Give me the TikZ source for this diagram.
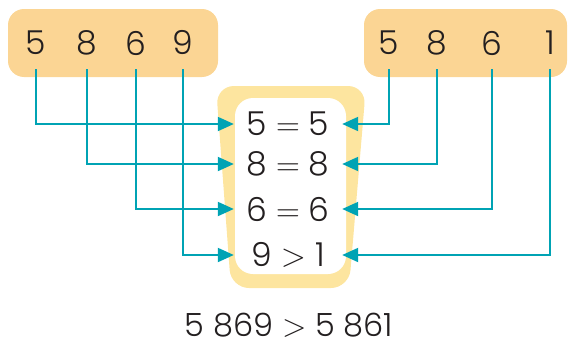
\RequirePackage{fix-cm}
\documentclass[tikz,border=0pt]{standalone}
\usepackage{fontspec}
\setmainfont{Poppins Light}
\usetikzlibrary{arrows.meta}
\definecolor{boxorange}{HTML}{FBD594}
\definecolor{padyellow}{HTML}{FDE59F}
\definecolor{linkteal}{HTML}{00A3B4}
\definecolor{inkdark}{HTML}{231F20}
\tikzset{
  digit/.style={inner sep=0pt, minimum height=52pt, text=inkdark, font=\fontsize{33}{33}\selectfont},
  row/.style={inner sep=0pt, minimum width=108pt, text=inkdark, font=\fontsize{33}{33}\selectfont},
  link/.style={draw=linkteal, line width=2pt, -{Triangle[length=16pt,width=14pt]}},
}
\begin{document}
\begin{tikzpicture}[x=1pt,y=-1pt]
\useasboundingbox (0,0) rectangle (568,343);
% number cards
\fill[boxorange, rounded corners=16pt] (8,9) rectangle (218,77);
\fill[boxorange, rounded corners=16pt] (364,9) rectangle (567,77);
% comparison panel
\fill[padyellow, rounded corners=18pt] (216,86) -- (366,86) -- (349,288) -- (231,288) -- cycle;
\fill[white, rounded corners=18pt] (235,98) rectangle (346,274);
% digits of 5869
\node[digit] (L1) at (36,43) {5};
\node[digit] (L2) at (87,43) {8};
\node[digit] (L3) at (136,43) {6};
\node[digit] (L4) at (183,43) {9};
% digits of 5861
\node[digit] (R1) at (389,43) {5};
\node[digit] (R2) at (437,43) {8};
\node[digit] (R3) at (492,43) {6};
\node[digit] (R4) at (550,43) {1};
% place-by-place comparisons
\node[row] (M1) at (288,124) {5 $=$ 5};
\node[row] (M2) at (288,164) {8 $=$ 8};
\node[row] (M3) at (288,209) {6 $=$ 6};
\node[row] (M4) at (288,255) {9 $>$ 1};
% result
\node[inner sep=0pt, text=inkdark, font=\fontsize{32}{32}\selectfont] (res) at (289,325) {5 869 $>$ 5 861};
% connectors
\draw[link] (L1.south) |- (M1.west);
\draw[link] (L2.south) |- (M2.west);
\draw[link] (L3.south) |- (M3.west);
\draw[link] (L4.south) |- (M4.west);
\draw[link] (R1.south) |- (M1.east);
\draw[link] (R2.south) |- (M2.east);
\draw[link] (R3.south) |- (M3.east);
\draw[link] (R4.south) |- (M4.east);
\end{tikzpicture}
\end{document}
